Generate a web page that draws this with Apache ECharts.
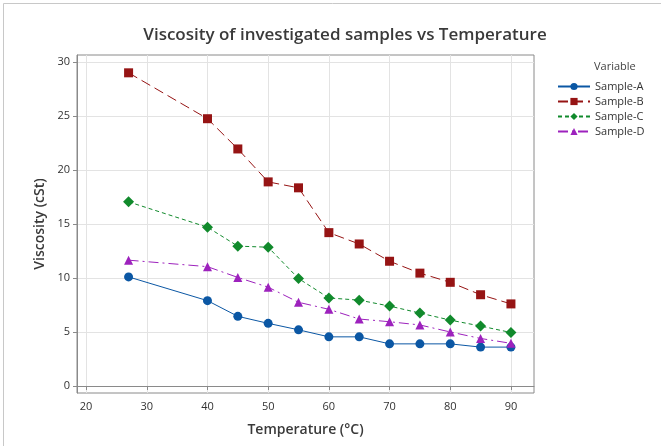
<!DOCTYPE html>
<html><head><meta charset="utf-8">
<script src="https://cdn.jsdelivr.net/npm/echarts@6/dist/echarts.min.js"></script>
<style>html,body{margin:0;padding:0;background:#fff}#c{width:661px;height:446px}</style>
</head><body><div id="c"></div>
<script>
const temps = [27, 40, 45, 50, 55, 60, 65, 70, 75, 80, 85, 90];
const sampleA = [10.1, 7.9, 6.45, 5.8, 5.2, 4.55, 4.55, 3.9, 3.9, 3.9, 3.6, 3.6];
const sampleB = [29.0, 24.75, 21.95, 18.9, 18.35, 14.2, 13.15, 11.55, 10.45, 9.6, 8.45, 7.6];
const sampleC = [17.05, 14.7, 12.95, 12.85, 9.95, 8.15, 7.95, 7.4, 6.75, 6.1, 5.55, 4.95];
const sampleD = [11.65, 11.05, 10.05, 9.15, 7.75, 7.1, 6.2, 5.95, 5.65, 5.0, 4.4, 3.95];
const xTicks = [20, 30, 40, 50, 60, 70, 80, 90];
const yTicks = [0, 5, 10, 15, 20, 25, 30];
const names = ['Sample-A', 'Sample-B', 'Sample-C', 'Sample-D'];
const colors = ['#0b57a4', '#961414', '#118a2c', '#9d22bd'];
const symbols = ['circle', 'rect', 'diamond', 'triangle'];
const dashes = ['solid', [10, 5], [4, 3], [10, 4, 2, 4]];
const allVals = [sampleA, sampleB, sampleC, sampleD];
const font = '"Open Sans", "Noto Sans", sans-serif';

const chart = echarts.init(document.getElementById('c'));
chart.setOption({
  animation: false,
  backgroundColor: '#fff',
  title: {
    text: 'Viscosity of investigated samples vs Temperature',
    left: 340, top: 22, textAlign: 'center',
    textStyle: {fontFamily: font, fontSize: 17, fontWeight: 600, color: '#3a3a3a'}
  },
  graphic: [
    {type: 'rect', left: 1, top: 1, shape: {width: 658, height: 443}, style: {fill: 'none', stroke: '#c8c8c8', lineWidth: 1}, silent: true},
    {type: 'text', left: 594, top: 61, style: {text: 'Variable', fontFamily: font, fontSize: 11, fill: '#444'}}
  ],
  legend: {
    orient: 'vertical', left: 552, top: 75, itemWidth: 32, itemHeight: 9, itemGap: 2,
    textStyle: {fontFamily: font, fontSize: 11, color: '#333', lineHeight: 13},
    data: names
  },
  grid: {left: 77, right: 127, top: 55, bottom: 53, show: true, borderColor: '#8a8a8a', borderWidth: 1},
  xAxis: {
    type: 'value', min: 18.5, max: 93.8,
    name: 'Temperature (°C)', nameLocation: 'middle', nameGap: 30,
    nameTextStyle: {fontFamily: font, fontSize: 14, fontWeight: 600, color: '#3a3a3a'},
    axisLine: {show: true, lineStyle: {color: '#8a8a8a'}},
    axisTick: {show: true, length: 4, lineStyle: {color: '#8a8a8a'}, customValues: xTicks},
    axisLabel: {fontFamily: font, fontSize: 11, color: '#333', margin: 8, customValues: xTicks},
    splitLine: {show: true, lineStyle: {color: '#e3e3e3'}}
  },
  yAxis: {
    type: 'value', min: -0.65, max: 30.65,
    name: 'Viscosity (cSt)', nameLocation: 'middle', nameGap: 30,
    nameTextStyle: {fontFamily: font, fontSize: 14, fontWeight: 600, color: '#3a3a3a'},
    axisLine: {show: true, lineStyle: {color: '#8a8a8a'}},
    axisTick: {show: true, length: 4, lineStyle: {color: '#8a8a8a'}, customValues: yTicks},
    axisLabel: {fontFamily: font, fontSize: 11, color: '#333', margin: 7, customValues: yTicks},
    splitLine: {show: true, lineStyle: {color: '#e3e3e3'}}
  },
  series: names.map((n, i) => ({
    name: n, type: 'line',
    data: temps.map((t, j) => [t, allVals[i][j]]),
    symbol: symbols[i], symbolSize: i === 2 ? 11 : 9,
    showAllSymbol: true,
    itemStyle: {color: colors[i]},
    lineStyle: {color: colors[i], width: 1, type: dashes[i]}
  }))
});
</script></body></html>
